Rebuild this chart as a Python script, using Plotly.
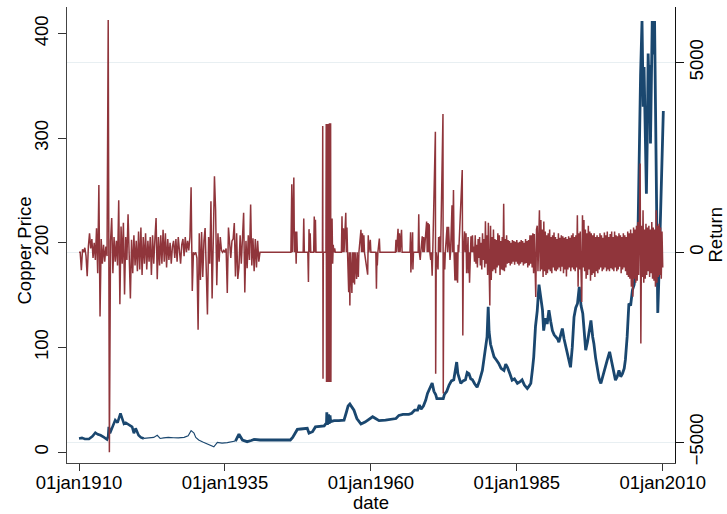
import plotly.graph_objects as go

# ---------------- data ----------------
price_year = [1910.0, 1910.5, 1911.0, 1911.7, 1912.3, 1912.8, 1913.2, 1913.7, 1914.3, 1914.8,
              1915.0, 1915.1, 1915.3, 1915.5, 1915.8, 1916.2, 1916.6, 1917.1, 1917.4, 1917.7,
              1918.0, 1918.5, 1919.1, 1919.4, 1919.7, 1920.2, 1920.6, 1921.1, 1922.0, 1922.8,
              1923.4, 1923.9, 1924.5, 1925.3, 1926.2, 1927.0, 1928.0, 1928.7, 1929.2, 1929.7,
              1930.0, 1930.5, 1931.2, 1932.0, 1932.5, 1933.1, 1933.7, 1934.5, 1935.4, 1936.2,
              1936.8, 1937.4, 1938.0, 1938.8, 1939.5, 1940.0, 1941.0, 1946.2, 1946.6, 1947.1,
              1947.4, 1948.0, 1949.1, 1949.4, 1950.0, 1950.5, 1951.4, 1952.0, 1952.4, 1952.45,
              1952.55, 1952.75, 1952.85, 1953.0, 1953.1, 1953.7, 1954.5, 1955.4, 1955.8, 1956.1,
              1956.4, 1956.7, 1957.1, 1957.6, 1958.3, 1959.0, 1959.6, 1960.3, 1960.8, 1961.4,
              1962.5, 1963.5, 1964.3, 1964.8, 1965.5, 1966.5, 1967.0, 1967.5, 1968.0, 1968.3,
              1968.6, 1969.0, 1969.4, 1969.7, 1970.1, 1970.5, 1970.8, 1971.1, 1971.3, 1971.9,
              1972.4, 1972.6, 1973.0, 1973.4, 1973.8, 1974.2, 1974.5, 1974.7, 1974.9, 1975.4,
              1975.8, 1976.2, 1976.5, 1976.8, 1977.1, 1977.4, 1977.8, 1978.2, 1978.6, 1979.1,
              1979.4, 1979.6, 1979.9, 1980.1, 1980.25, 1980.5, 1980.8, 1981.1, 1981.5, 1981.9,
              1982.3, 1982.8, 1983.1, 1983.4, 1983.8, 1984.2, 1984.6, 1985.1, 1985.5, 1985.9,
              1986.3, 1986.8, 1987.1, 1987.4, 1987.7, 1987.9, 1988.2, 1988.5, 1988.8, 1989.0,
              1989.4, 1989.6, 1989.9, 1990.2, 1990.5, 1990.8, 1991.1, 1991.4, 1991.7, 1992.0,
              1992.2, 1992.5, 1992.8, 1993.1, 1993.4, 1993.7, 1993.9, 1994.2, 1994.5, 1994.8,
              1995.1, 1995.4, 1995.7, 1996.0, 1996.3, 1996.6, 1996.8, 1997.1, 1997.4, 1997.7,
              1998.0, 1998.2, 1998.5, 1998.8, 1999.1, 1999.4, 1999.7, 1999.9, 2000.2, 2000.5,
              2000.9, 2001.3, 2001.6, 2001.9, 2002.2, 2002.5, 2002.8, 2003.1, 2003.4, 2003.6,
              2003.9, 2004.2, 2004.5, 2004.8, 2005.1, 2005.4, 2005.7, 2005.85, 2005.95, 2006.2,
              2006.45, 2006.55, 2006.65, 2006.8, 2006.9, 2007.0, 2007.2, 2007.35, 2007.5, 2007.65,
              2007.75, 2007.9, 2008.05, 2008.2, 2008.35, 2008.45, 2008.6, 2008.75, 2008.9, 2009.15,
              2009.3, 2009.5, 2009.7, 2009.9, 2010.1]
price_val = [13, 13.5, 12.5, 12.4, 15, 18.4, 17, 16, 14, 12,
             15, 24, 18, 21, 26, 30.5, 28, 37, 32, 27,
             28, 25.8, 24, 18, 22.6, 16, 14, 13, 13.5, 14,
             16, 13, 13.5, 14, 13.7, 13.5, 14, 15.5, 20.4, 18,
             14, 11.5, 9.5, 7.6, 6, 5, 9.2, 8.5, 9, 9.5,
             10.5, 17, 11.5, 9.9, 11, 12, 11.5, 11.5, 14, 19.4,
             21.6, 22, 22.6, 18, 19.4, 24, 24.5, 25, 28, 38,
             26, 36, 27, 35, 29, 30, 30, 30.5, 38, 44,
             45.8, 43, 40, 32, 26.7, 28.6, 31, 33.7, 32, 30,
             30.5, 31, 32, 35, 36, 36, 37, 40, 40, 45,
             41, 44, 49.6, 56, 61, 66, 58, 55, 51, 51,
             51, 55, 58, 64, 68, 69, 80, 86, 75, 65.6,
             68, 69, 76, 75, 70, 69, 65, 62, 68, 78,
             90, 100, 110, 138.7, 115, 103, 96, 91, 88, 84.7,
             80, 78, 84, 81, 75, 68.7, 70, 65.6, 67, 69,
             64, 60.8, 63, 65.6, 80, 91, 120, 135, 160, 150,
             135.6, 116, 128, 122.4, 135.6, 125, 116, 112, 110, 108,
             105, 112, 118, 108, 100.5, 92, 88, 81, 100, 129,
             138, 142, 157.8, 140, 132.4, 110, 97.4, 105, 116, 125.8,
             110, 103.8, 90, 78, 70, 65.6, 72, 78, 82, 88,
             95.8, 85, 75, 68.7, 72, 78, 72, 75, 80, 88,
             110, 142, 140, 154.7, 160, 177, 190, 240, 285, 360,
             412, 380, 330, 368, 340, 320, 247, 300, 381, 350,
             370, 295, 360, 412, 380, 395, 412, 335, 240, 133,
             160, 208, 250, 298, 326]

# Return, 1910-1941, one value every 0.2 year
ret_early_start = 1910.0
ret_early_step = 0.2
ret_early = [0, 0, -475, 80, 0, 120, -100, -630, 150, 500,
             100, 350, -150, 250, -200, 630, -550, 1770, -1690, 350,
             -300, 200, -250, 150, -100, 6120, -5270, 300, 900, -550,
             400, -250, 300, -350, 1370, -1370, 680, -300, 780, -1110,
             400, -200, 1000, -300, -1220, 330, -550, 450, -350, 300,
             -500, 550, -450, 650, -600, 400, -300, 500, -450, 300,
             -250, 400, -600, 450, -300, 350, 900, -710, 400, -350,
             450, -300, 590, -250, 500, -400, 350, -200, 250, -300,
             150, 300, -150, 350, -250, 400, 100, -300, 200, 350,
             -100, 400, 0, 300, 50, 400, 1710, -1020, 0, -50,
             0, -150, -2040, 500, -730, 535, -650, 300, 640, -400,
             -1640, 400, -300, 1345, -1220, 300, 2000, 1100, -870, 500,
             -250, 400, 50, 0, 50, 0, 100, -1070, 650, 250,
             -150, 300, 350, 770, -640, 500, -700, -400, 450, -300,
             300, 1040, -1060, 300, -420, 450, -200, 1260, -350, 370,
             -500, 350, -400, 300, -250, 0]

# Return, 1941-1977.5, sparse observations
ret_mid_year = [1946.3, 1946.45, 1946.55, 1946.8, 1946.9, 1947.05, 1947.15, 1947.2, 1947.3, 1947.4,
                1948.4, 1948.5, 1948.6, 1949.2, 1949.3, 1949.4, 1949.5, 1949.6, 1949.7, 1950.2,
                1950.3, 1950.4, 1950.5, 1950.6, 1951.7, 1951.75, 1951.8, 1951.85, 1952.3, 1952.35,
                1952.4, 1952.5, 1952.55, 1952.7, 1952.75, 1952.9, 1952.95, 1953.1, 1953.15, 1953.2,
                1953.35, 1953.45, 1953.55, 1953.65, 1953.8, 1953.9, 1954.95, 1955.05, 1955.15, 1955.3,
                1955.4, 1955.7, 1955.8, 1955.9, 1956.0, 1956.2, 1956.3, 1956.4, 1956.5, 1956.75,
                1956.85, 1957.0, 1957.1, 1957.2, 1957.3, 1957.55, 1957.65, 1957.85, 1957.95, 1958.3,
                1958.4, 1958.55, 1958.65, 1958.8, 1958.9, 1959.45, 1959.55, 1959.65, 1959.9, 1960.0,
                1960.85, 1960.95, 1961.05, 1961.1, 1961.2, 1961.45, 1961.55, 1964.2, 1964.3, 1964.4,
                1964.65, 1964.75, 1964.9, 1965.0, 1965.25, 1965.35, 1966.7, 1966.8, 1966.85, 1966.95,
                1967.15, 1967.2, 1967.3, 1968.1, 1968.2, 1968.3, 1968.45, 1968.55, 1968.8, 1968.9,
                1969.05, 1969.15, 1969.55, 1969.65, 1969.8, 1969.9, 1970.0, 1970.1, 1970.25, 1970.35,
                1970.5, 1970.6, 1971.05, 1971.1, 1971.2, 1971.5, 1971.6, 1971.7, 1971.85, 1971.95,
                1972.35, 1972.4, 1972.5, 1972.65, 1972.75, 1973.05, 1973.15, 1973.3, 1973.4, 1973.55,
                1973.65, 1973.9, 1974.0, 1974.15, 1974.25, 1974.4, 1974.5, 1974.6, 1974.7, 1974.85,
                1974.95, 1975.05, 1975.65, 1975.75, 1975.85, 1976.05, 1976.15, 1976.3, 1976.4, 1976.5,
                1976.65, 1976.7, 1976.8, 1976.9, 1977.0, 1977.15, 1977.25, 1977.4]
ret_mid_val = [0, 1790, 0, 1970, 0, 550, 0, -300, 550, 0,
               0, 890, 0, 0, -780, 610, 0, 500, 0, 0,
               940, 0, 860, 0, 0, 3325, -3330, 0, 0, 3377,
               -3420, 3377, -3420, 3377, -3420, 3400, -3420, 3400, -3420, 0,
               890, -300, 200, 0, 100, 0, 0, 950, 0, 630,
               0, 1040, 0, 650, 0, -1050, 0, -1400, 0, -1070,
               0, -800, 0, -850, 0, -700, 0, -650, 0, 590,
               0, 500, 0, 450, 0, -590, 450, 0, 330, 0,
               0, -960, 0, -350, 0, 360, 0, 0, 330, 0,
               620, 0, 500, 0, 590, 0, 0, 530, -530, 0,
               530, -450, 0, 0, 1000, 0, -200, 0, 420, 0,
               400, 0, 810, 0, 770, 0, 740, 0, -200, 0,
               -620, 0, 3175, -3200, 0, -450, 400, 0, 420, 0,
               3640, -3720, 0, -450, 0, 670, 0, 670, 0, -200,
               0, 1240, 0, 1640, 0, -740, 0, -740, 0, -800,
               200, 0, 2165, -2190, 0, 550, 0, 500, -550, 0,
               400, -550, 0, -800, 0, 420, 0, 450]

# Return, 1977.5-2010, one value every 0.125 year
ret_late_start = 1977.5
ret_late_step = 0.125
ret_late = [0, 150, -250, 450, -300, 200, -400, 350,
            -150, 400, -350, 250, -450, 500, -200, 350,
            -400, 820, -300, 450, -600, 780, -350, -1400,
            700, -730, 400, -500, 600, -450, 350, -550,
            320, -400, 500, -350, 450, -600, 300, -450,
            400, -470, 1280, -500, 350, -400, 450, -300,
            320, -280, 300, -350, 250, -300, 320, -250,
            300, -330, 280, -250, 320, -300, 260, -350,
            280, -300, 320, -260, 300, -350, 250, -300,
            350, -280, 300, -400, 320, -350, 450, -300,
            450, -400, 500, -550, 480, -600, -1180, 600,
            700, -500, 650, 1110, -500, 850, -450, 600,
            -650, 810, -500, 550, -600, 450, -550, 500,
            -450, 600, -500, 400, -550, 450, -400, 520,
            -480, 400, -500, 350, -450, 500, -400, 380,
            -500, 450, -380, 420, -550, 380, -450, 400,
            -640, 350, -450, 420, -400, 380, -500, 450,
            -400, 500, -450, 400, -500, 450, -400, 975,
            -910, 500, -450, 550, -500, -1310, 975, -400,
            850, -500, 600, -700, 500, -600, 700, -450,
            550, -750, 500, -600, 450, -550, 500, -650,
            400, -500, 450, -550, 400, -450, 500, -400,
            450, -500, 380, -450, 520, -400, 450, -500,
            550, -450, 400, -500, 480, -420, 550, -450,
            400, -500, 550, -400, 450, -500, 420, -450,
            500, -380, 450, -550, 400, -450, 500, -400,
            450, -500, 400, -600, 550, -650, 500, -700,
            600, -910, 500, -1170, 650, -700, 600, -800,
            700, -750, 800, -600, 650, 2340, -2400, 700,
            -650, 1110, -800, 600, -700, 750, -600, 650,
            -500, 700, -650, 600, -550, 800, -700, 650,
            -750, 600, -910, 1110, -800, 700, -650, 750,
            -600, 650, -700, 550, -400]

x_tick_vals = [1910, 1935, 1960, 1985, 2010]
x_tick_text = ["01jan1910", "01jan1935", "01jan1960", "01jan1985", "01jan2010"]
y_tick_vals = [0, 100, 200, 300, 400]
y2_tick_vals = [-5000, 0, 5000]

# ---------------- build series ----------------
ret_year = [ret_early_start + i * ret_early_step for i in range(len(ret_early))]
ret_val = list(ret_early)
ret_year += ret_mid_year
ret_val += ret_mid_val
ret_year += [ret_late_start + i * ret_late_step for i in range(len(ret_late))]
ret_val += ret_late

NAVY = "#1a476f"
MAROON = "#90353b"
FONT = "Liberation Sans, Arial, sans-serif"
FS = 18.5

def seg(lo, hi):
    idx = [i for i, y in enumerate(price_year) if lo <= y <= hi]
    return [price_year[i] for i in idx], [price_val[i] for i in idx]

fig = go.Figure()
for (lo, hi, w) in [(1900, 1921.1, 2.6), (1921.1, 1936.8, 1.1), (1936.8, 2100, 2.8)]:
    xs, ys = seg(lo, hi)
    fig.add_trace(go.Scatter(x=xs, y=ys, mode="lines", line=dict(color=NAVY, width=w),
                             name="Copper Price", showlegend=False, hoverinfo="skip"))
fig.add_trace(go.Scatter(x=ret_year, y=ret_val, mode="lines", yaxis="y2",
                         line=dict(color=MAROON, width=1.5), name="Return", showlegend=False))

L, R, T, B = 67, 52, 7, 51
PW, PH = 727 - L - R, 514 - T - B

fig.update_layout(
    width=727, height=514,
    margin=dict(l=L, r=R, t=T, b=B),
    paper_bgcolor="white", plot_bgcolor="white",
    font=dict(family=FONT, size=FS, color="black"),
    showlegend=False,
    xaxis=dict(range=[1907.94, 2012.1], tickvals=x_tick_vals, ticktext=x_tick_text,
               ticks="outside", ticklen=7, tickwidth=1, tickcolor="#333",
               ticklabelstandoff=-4,
               showline=True, linecolor="#444", linewidth=1,
               showgrid=False, zeroline=False, automargin=False),
    yaxis=dict(range=[-10.5, 425.4], tickvals=y_tick_vals, tickangle=-90,
               ticks="outside", ticklen=8, tickwidth=1, tickcolor="#333",
               ticklabelstandoff=3,
               showline=True, linecolor="#444", linewidth=1,
               showgrid=False, zeroline=False, automargin=False),
    yaxis2=dict(range=[-5551, 6462], tickvals=y2_tick_vals, tickangle=-90,
                overlaying="y", side="right",
                ticks="outside", ticklen=8, tickwidth=1, tickcolor="#111",
                ticklabelstandoff=-3,
                showline=True, linecolor="#111", linewidth=1,
                showgrid=True, gridcolor="#e8eff2", gridwidth=1,
                zeroline=False, automargin=False),
    annotations=[
        dict(text="date", xref="paper", yref="paper", x=(371 - L) / PW, y=0,
             yshift=-(502 - (T + PH)), xanchor="center", yanchor="middle",
             showarrow=False, font=dict(size=FS)),
        dict(text="Copper Price", xref="paper", yref="paper", x=0, xshift=23.5 - L,
             y=(T + PH - 251) / PH, xanchor="center", yanchor="middle", textangle=-90,
             showarrow=False, font=dict(size=FS)),
        dict(text="Return", xref="paper", yref="paper", x=1, xshift=714.5 - (L + PW),
             y=(T + PH - 235) / PH, xanchor="center", yanchor="middle", textangle=-90,
             showarrow=False, font=dict(size=FS)),
    ],
)

fig.write_html("out.html", config={"displayModeBar": False},
               post_script="document.body.style.margin='0px';")
